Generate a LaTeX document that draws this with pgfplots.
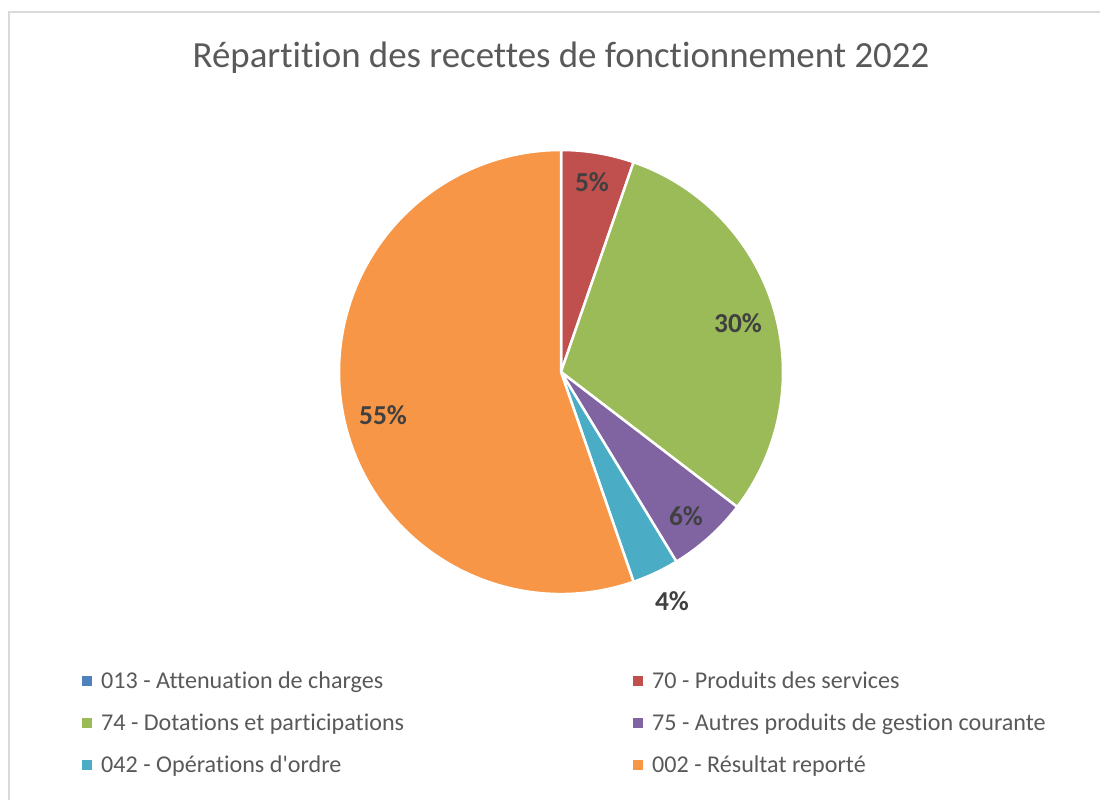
\documentclass[border=0pt]{standalone}
\usepackage{pgfplots}
\pgfplotsset{compat=1.18}
\usepackage{pgfplotstable}
\usepackage{fontspec}
\setmainfont{Carlito}[Ligatures={NoCommon,TeXOff}]
\definecolor{cA}{HTML}{4F81BD}
\definecolor{cB}{HTML}{C0504D}
\definecolor{cC}{HTML}{9BBB59}
\definecolor{cD}{HTML}{8064A2}
\definecolor{cE}{HTML}{4BACC6}
\definecolor{cF}{HTML}{F79646}
\definecolor{txt}{HTML}{595959}
\definecolor{lab}{HTML}{404040}
\definecolor{brd}{HTML}{D9D9D9}

\pgfplotstableread{
code value
013 0
70 5.3
74 30.1
75 5.9
042 3.4
002 55.3
}\pietable

\newcommand\slice[3]{%
  \fill[#3, draw=white, line width=2.5bp, line join=round]
    (axis cs:561,428) -- ([shift={(#1:222bp)}]axis cs:561,428)
    arc[start angle=#1, delta angle={-3.6*#2}, radius=222bp] -- cycle;}

\begin{document}
\begin{tikzpicture}
\pgfplotstablegetelem{0}{value}\of\pietable \let\vA\pgfplotsretval
\pgfplotstablegetelem{1}{value}\of\pietable \let\vB\pgfplotsretval
\pgfplotstablegetelem{2}{value}\of\pietable \let\vC\pgfplotsretval
\pgfplotstablegetelem{3}{value}\of\pietable \let\vD\pgfplotsretval
\pgfplotstablegetelem{4}{value}\of\pietable \let\vE\pgfplotsretval
\pgfplotstablegetelem{5}{value}\of\pietable \let\vF\pgfplotsretval
\pgfmathsetmacro\aA{90}
\pgfmathsetmacro\aB{\aA-3.6*\vA}
\pgfmathsetmacro\aC{\aB-3.6*\vB}
\pgfmathsetmacro\aD{\aC-3.6*\vC}
\pgfmathsetmacro\aE{\aD-3.6*\vD}
\pgfmathsetmacro\aF{\aE-3.6*\vE}
\begin{axis}[
  x=1bp, y=1bp,
  xmin=0, xmax=1100, ymin=0, ymax=800,
  hide axis, clip=false,
  anchor=south west, at={(0,0)},
]
\addplot[draw=none] coordinates {(0,0) (1100,800)};
% border
\draw[brd, line width=1.5bp] (axis cs:9,0) -- (axis cs:9,788) -- (axis cs:1100,788);
% title
\node[font=\fontsize{37}{44}\selectfont, text=txt] at (axis cs:561,742) {Répartition des recettes de fonctionnement 2022};
% slices
\slice{\aB}{\vB}{cB}
\slice{\aC}{\vC}{cC}
\slice{\aD}{\vD}{cD}
\slice{\aE}{\vE}{cE}
\slice{\aF}{\vF}{cF}
% data labels
\begin{scope}[every node/.style={font=\fontsize{27.5}{32}\selectfont\bfseries, text=lab}]
\node at (axis cs:592,618) {5\%};
\node at (axis cs:738,477) {30\%};
\node at (axis cs:686,284) {6\%};
\node at (axis cs:672,199) {4\%};
\node at (axis cs:383,385) {55\%};
\end{scope}
% legend
\begin{scope}[every node/.style={font=\fontsize{24.2}{28}\selectfont, text=txt, anchor=west, text height=0.64em, text depth=0.0em, inner sep=0pt}]
\fill[cA] (axis cs:82,114) rectangle (axis cs:92,124);
\node at (axis cs:101,115) {013 - Attenuation de charges};
\fill[cB] (axis cs:633,114) rectangle (axis cs:643,124);
\node at (axis cs:652,115) {70 - Produits des services};
\fill[cC] (axis cs:82,72) rectangle (axis cs:92,82);
\node at (axis cs:101,73) {74 - Dotations et participations};
\fill[cD] (axis cs:633,72) rectangle (axis cs:643,82);
\node at (axis cs:652,73) {75 - Autres produits de gestion courante};
\fill[cE] (axis cs:82,30) rectangle (axis cs:92,40);
\node at (axis cs:101,31) {042 - Opérations d'ordre};
\fill[cF] (axis cs:633,30) rectangle (axis cs:643,40);
\node at (axis cs:652,31) {002 - Résultat reporté};
\end{scope}
\end{axis}
\pgfresetboundingbox
\path (0,0) rectangle (1100bp,800bp);
\end{tikzpicture}
\end{document}
